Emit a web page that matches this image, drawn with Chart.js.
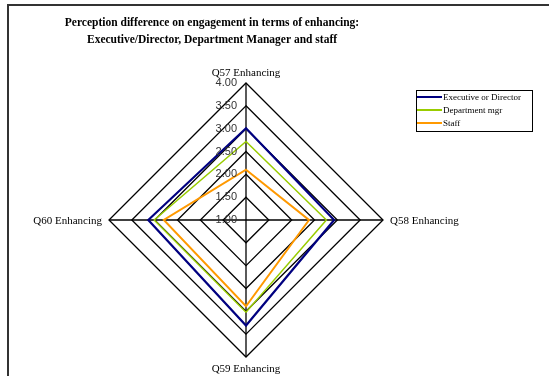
<!DOCTYPE html>
<html>
<head>
<meta charset="utf-8">
<script src="https://cdn.jsdelivr.net/npm/chart.js@4"></script>
<style>
  html, body { margin: 0; padding: 0; background: #fff; }
  #wrap { position: relative; width: 549px; height: 376px; }
</style>
</head>
<body>
<div id="wrap"><canvas id="radarChart" width="549" height="376"></canvas></div>
<script>
// Datos del gráfico
const categories = ['Q57 Enhancing', 'Q58 Enhancing', 'Q59 Enhancing', 'Q60 Enhancing'];
const executiveValues = [3.01, 2.93, 3.31, 3.14];
const departmentValues = [2.72, 2.76, 3.02, 3.01];
const staffValues = [2.10, 2.38, 2.89, 2.80];
const tickValues = [1.00, 1.50, 2.00, 2.50, 3.00, 3.50, 4.00];
const titleLines = ['Perception difference on engagement in terms of enhancing:', 'Executive/Director, Department Manager and staff'];

// Marco, título, etiquetas y leyenda dibujados a mano
const decorPlugin = {
    id: 'decor',
    afterDraw(chart) {
        const ctx = chart.ctx;
        const scale = chart.scales.r;
        ctx.save();

        // marco exterior
        ctx.strokeStyle = '#333';
        ctx.lineWidth = 2;
        ctx.beginPath();
        ctx.moveTo(8, 376);
        ctx.lineTo(8, 5);
        ctx.lineTo(549, 5);
        ctx.stroke();

        // título
        ctx.fillStyle = '#000';
        ctx.font = 'bold 11.5px "Liberation Serif"';
        ctx.textAlign = 'center';
        ctx.textBaseline = 'middle';
        ctx.fillText(titleLines[0], 212, 23);
        ctx.fillText(titleLines[1], 212, 40);

        // etiquetas de los ejes
        ctx.font = '11px "Liberation Serif"';
        const r = scale.drawingArea;
        categories.forEach((label, i) => {
            const p = scale.getPointPosition(i, r);
            if (i === 0) {
                ctx.textAlign = 'center';
                ctx.fillText(label, p.x, p.y - 10);
            } else if (i === 1) {
                ctx.textAlign = 'left';
                ctx.fillText(label, p.x + 7, p.y + 1);
            } else if (i === 2) {
                ctx.textAlign = 'center';
                ctx.fillText(label, p.x, p.y + 12);
            } else {
                ctx.textAlign = 'right';
                ctx.fillText(label, p.x - 7, p.y + 1);
            }
        });

        // etiquetas de las marcas
        ctx.font = '11px "Liberation Sans"';
        ctx.fillStyle = '#333';
        ctx.textAlign = 'right';
        tickValues.forEach(v => {
            const d = scale.getDistanceFromCenterForValue(v);
            ctx.fillText(v.toFixed(2), scale.xCenter - 9, scale.yCenter - d);
        });

        // leyenda
        const lx = 416, ly = 90, lw = 116, lh = 41;
        ctx.fillStyle = '#fff';
        ctx.fillRect(lx, ly, lw, lh);
        ctx.strokeStyle = '#000';
        ctx.lineWidth = 1;
        ctx.strokeRect(lx + 0.5, ly + 0.5, lw, lh);
        ctx.font = '9px "Liberation Serif"';
        ctx.textAlign = 'left';
        chart.data.datasets.forEach((ds, i) => {
            const y = ly + 7 + i * 13;
            ctx.strokeStyle = ds.borderColor;
            ctx.lineWidth = 2;
            ctx.beginPath();
            ctx.moveTo(lx + 1, y);
            ctx.lineTo(lx + 26, y);
            ctx.stroke();
            ctx.fillStyle = '#000';
            ctx.fillText(ds.label, lx + 27, y + 1);
        });

        ctx.restore();
    }
};

function renderRadarChart() {
    const ctx = document.getElementById('radarChart').getContext('2d');
    return new Chart(ctx, {
        type: 'radar',
        data: {
            labels: categories,
            datasets: [
                { label: 'Executive or Director', data: executiveValues, borderColor: '#000080', borderWidth: 2.2, fill: false, pointRadius: 0 },
                { label: 'Department mgr', data: departmentValues, borderColor: '#99cc00', borderWidth: 1.5, fill: false, pointRadius: 0 },
                { label: 'Staff', data: staffValues, borderColor: '#ff9900', borderWidth: 2, fill: false, pointRadius: 0 }
            ]
        },
        options: {
            responsive: false,
            animation: false,
            layout: { padding: { left: 107, right: 163, top: 83, bottom: 18 } },
            elements: { line: { tension: 0 } },
            plugins: { legend: { display: false }, title: { display: false }, tooltip: { enabled: false } },
            scales: {
                r: {
                    min: 1,
                    max: 4,
                    ticks: { display: false, stepSize: 0.5 },
                    pointLabels: { display: false },
                    grid: { color: '#000', lineWidth: 1.3 },
                    angleLines: { color: '#000', lineWidth: 1.3 }
                }
            }
        },
        plugins: [decorPlugin]
    });
}

renderRadarChart();
</script>
</body>
</html>
